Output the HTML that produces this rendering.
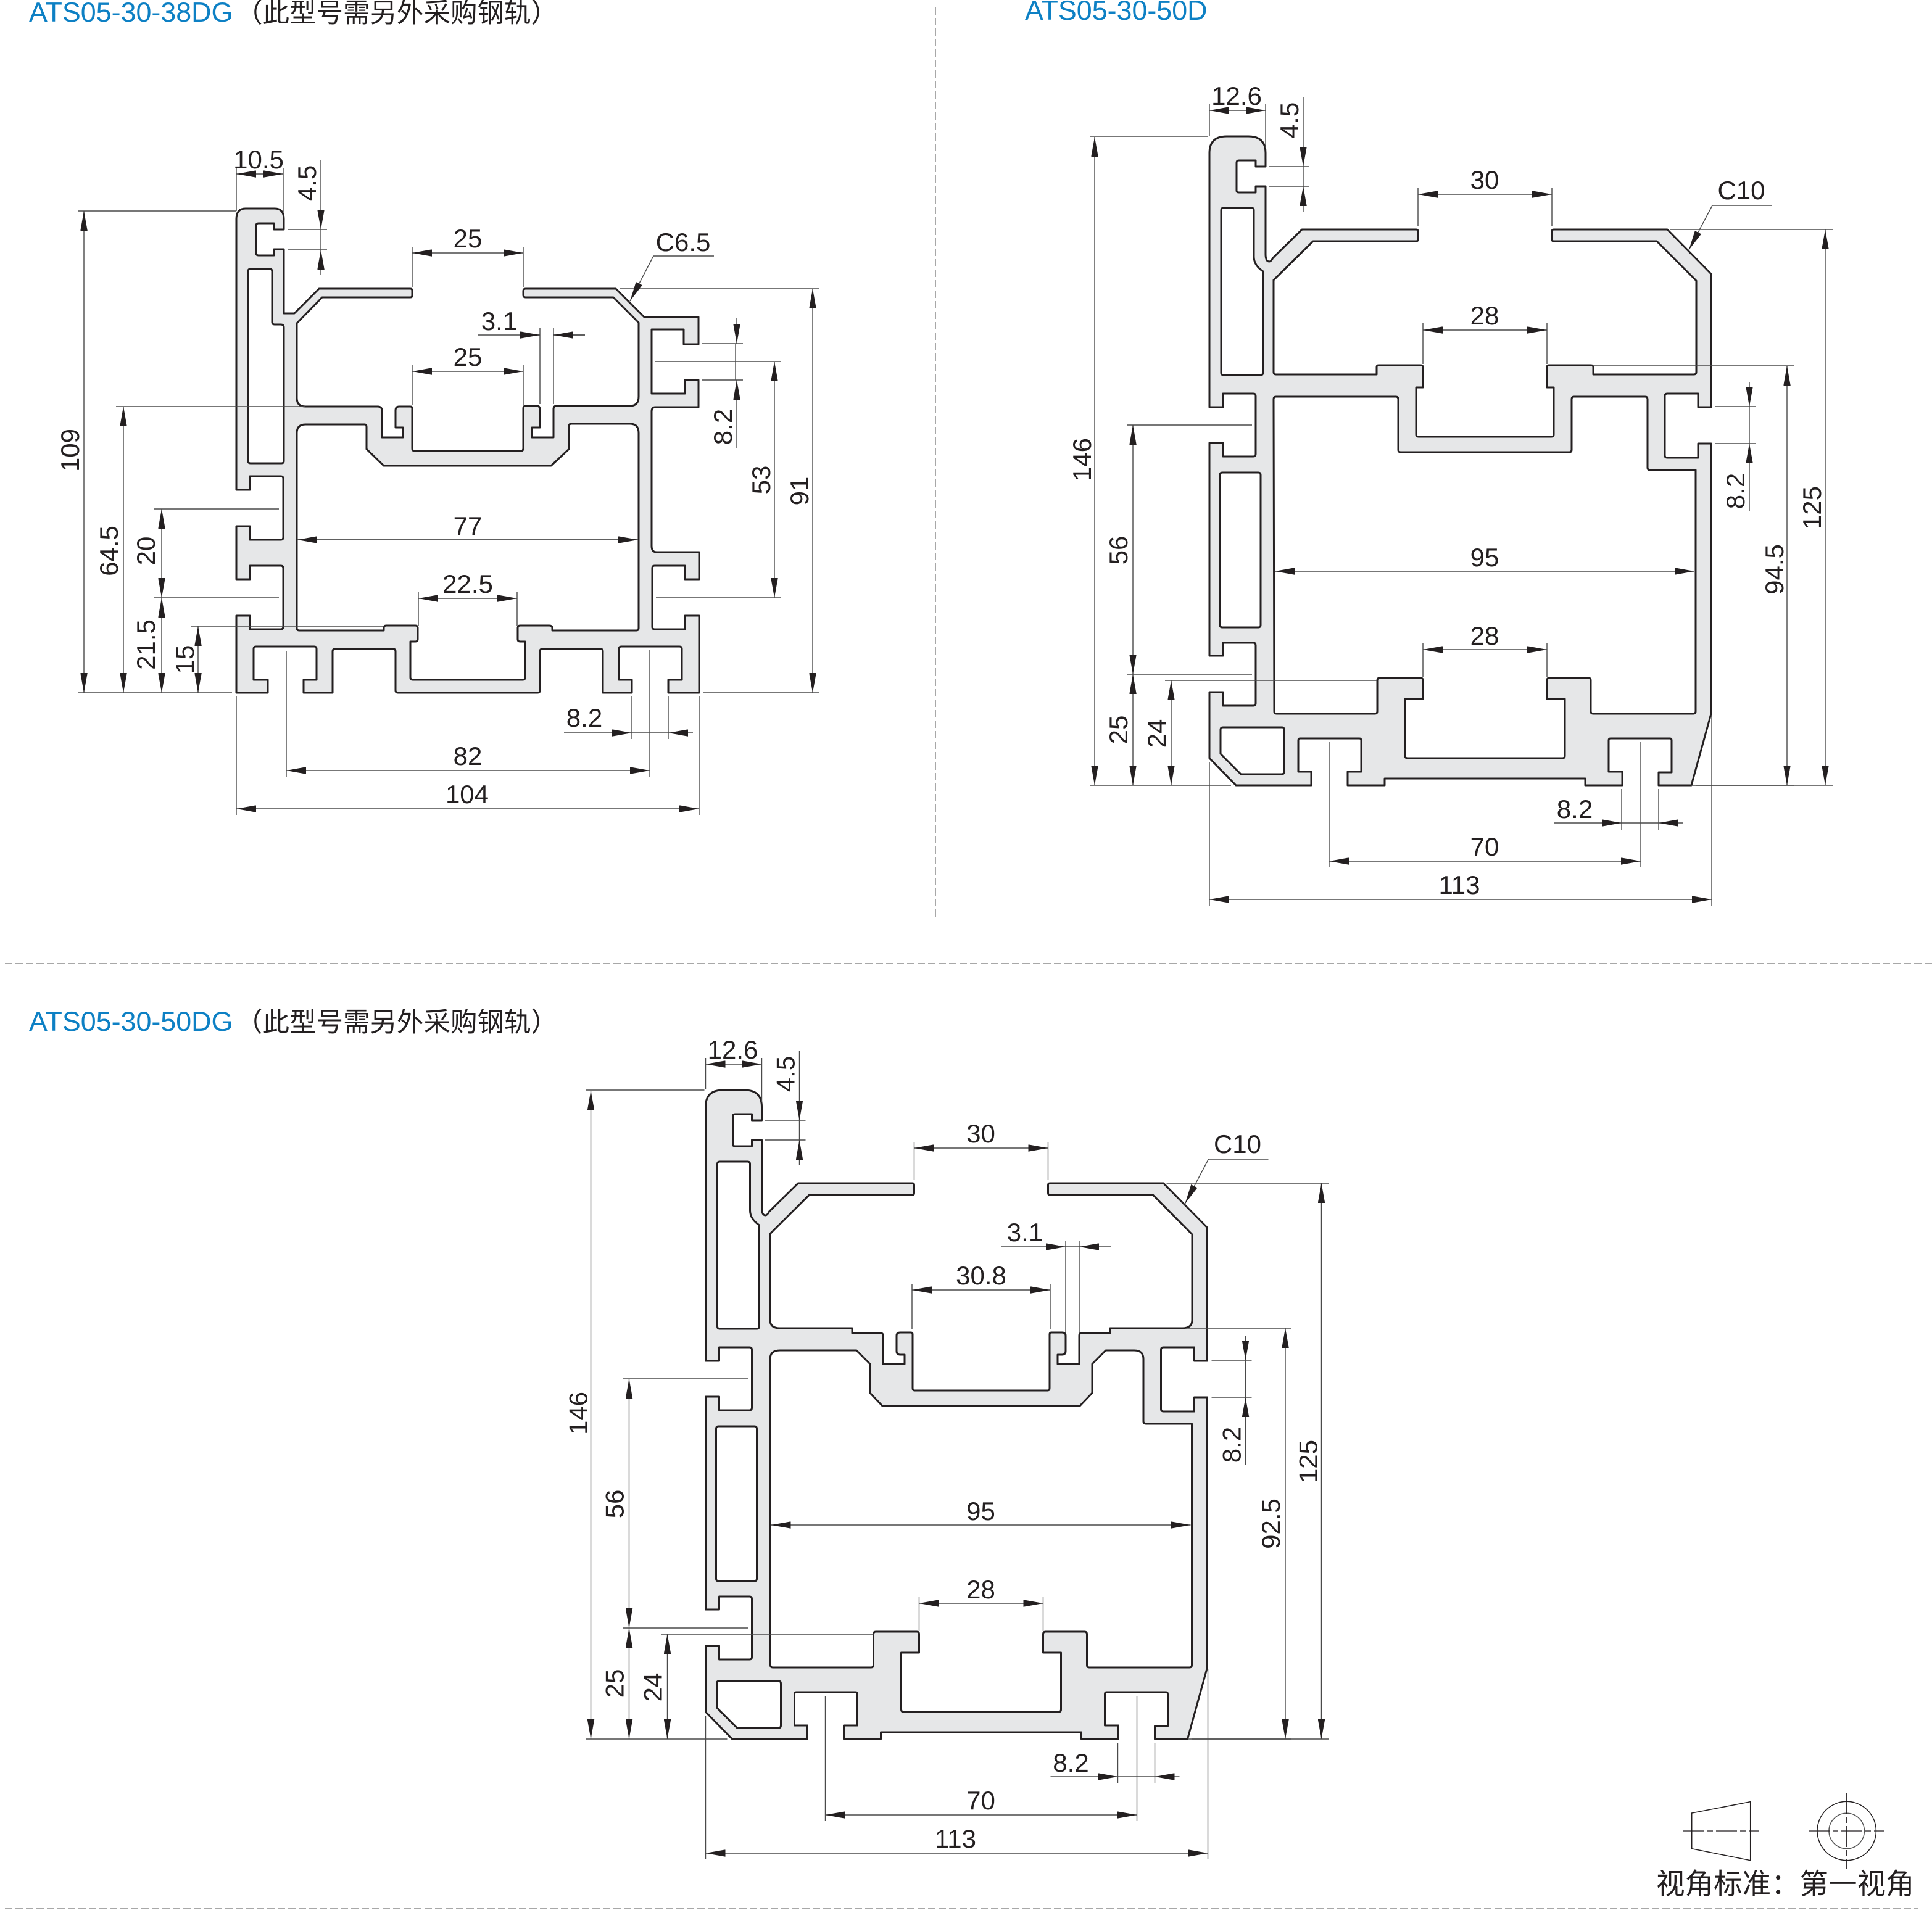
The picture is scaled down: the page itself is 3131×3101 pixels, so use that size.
<!DOCTYPE html>
<html><head><meta charset="utf-8"><style>
html,body{margin:0;padding:0;background:#fff}
svg{display:block}
.p{fill:#e6e7e8;fill-rule:evenodd;stroke:#231f20;stroke-width:3;stroke-linejoin:round}
.d,.a,.e{fill:none;stroke:#4a4a4a;stroke-width:1.4}
.a{marker-start:url(#m);marker-end:url(#m)}
.e{marker-end:url(#m)}
text{font-family:"Liberation Sans","Noto Sans CJK SC",sans-serif;fill:#231f20}
.t{font-size:42px;text-anchor:middle}
.b{font-size:44.8px;fill:#0d80c4}
.c{font-size:43.5px}
.dash{fill:none;stroke:#a8a8a8;stroke-width:2;stroke-dasharray:12 5}
.l{fill:none;stroke:#231f20;stroke-width:1.5}
</style></head><body>
<svg xmlns="http://www.w3.org/2000/svg" width="3131" height="3101" viewBox="0 0 3131 3101">
<defs><marker id="m" markerUnits="userSpaceOnUse" markerWidth="32" markerHeight="11.5" refX="32" refY="5.75" orient="auto-start-reverse"><path d="M0 0L32 5.75L0 11.5Z" fill="#231f20"/></marker></defs>
<rect width="3131" height="3101" fill="#fff"/>

<path class="dash" d="M1516 12V1492"/>
<path class="dash" d="M8 1562H3131"/>
<path class="dash" d="M8 3094H3108"/>

<text class="b" x="47" y="35">ATS05-30-38DG</text><text class="c" x="382" y="36">（此型号需另外采购钢轨）</text>
<text class="b" x="1661" y="32">ATS05-30-50D</text>
<text class="b" x="47" y="1671">ATS05-30-50DG</text><text class="c" x="382" y="1672">（此型号需另外采购钢轨）</text>

<!-- Profile 1 -->
<path class="p" d="M383 355Q383 338 398 338L445 338Q460 338 460 355L460 372L444 372L444 362L419 362Q415 362 415 366L415 410Q415 414 419 414L444 414L444 404L460 404L460 508L477 508L517 468L665 468Q668 468 668 471L668 479Q668 482 665 482L522 482L481 524L481 645Q481 659 495 659L612 659Q619 659 619 666L619 709L653 709L653 693L641 693L641 665Q641 659 647 659L665 659Q668 659 668 662L668 727Q668 731 672 731L844 731Q848 731 848 727L848 662Q848 658 852 658L870 658Q875 658 875 664L875 693L862 693L862 709L897 709L897 663Q897 658 902 658L1021 658Q1035 658 1035 643L1035 523L994 482L852 482Q848 482 848 478L848 472Q848 468 852 468L998 468L1044 514L1132 514L1132 558L1108 558L1108 534L1056 534L1056 638L1110 638L1110 616L1132 616L1132 660L1062 660Q1056 660 1056 667L1056 885Q1056 895 1064 895L1133 895L1133 939L1110 939L1110 917L1061 917Q1057 917 1057 921L1057 1016Q1057 1020 1061 1020L1110 1020L1110 998L1133 998L1133 1123L1083 1123L1083 1102L1105 1102L1105 1052Q1105 1048 1101 1048L1007 1048Q1003 1048 1003 1052L1003 1102L1024 1102L1024 1123L977 1123L977 1056Q977 1052 973 1052L879 1052Q875 1052 875 1056L875 1119Q875 1123 871 1123L645 1123Q641 1123 641 1119L641 1056Q641 1052 637 1052L543 1052Q539 1052 539 1056L539 1123L492 1123L492 1102L513 1102L513 1052Q513 1048 509 1048L415 1048Q411 1048 411 1052L411 1102L434 1102L434 1123L383 1123L383 998L405 998L405 1020L455 1020Q459 1020 459 1016L459 921Q459 917 455 917L405 917L405 939L383 939L383 853L405 853L405 875L455 875Q459 875 459 871L459 776Q459 772 455 772L405 772L405 794L383 794Z
M406 436L437 436Q441 436 441 440L441 522Q441 526 445 526L455 526Q460 526 460 531L460 747Q460 751 456 751L406 751Q402 751 402 747L402 440Q402 436 406 436Z
M481 702Q481 688 495 688L591 688Q594 688 594 692L594 728L622 755L893 755L922 728L922 691Q922 687 926 687L1021 687Q1035 687 1035 702L1035 1018Q1035 1022 1031 1022L895 1022L895 1018Q895 1014 890 1014L843 1014Q839 1014 839 1018L839 1036Q839 1040 843 1040L851 1040L851 1098Q851 1102 847 1102L669 1102Q665 1102 665 1098L665 1040L673 1040Q677 1040 677 1036L677 1018Q677 1014 673 1014L626 1014Q622 1014 622 1018L622 1022L485 1022Q481 1022 481 1018Z"/>

<g>
<path class="d" d="M383 272V342M459 272V345M466 372H530M466 405H530M520 372V405M126 342H382M126 1123H376M188 659H494M250 825H452M250 969H452M310 1015H622M668 400V465M848 400V465M668 591V657M848 591V657M843 543H875M875 532V655M897 532V655M897 543H948M1004 468H1328M1140 1123H1328M1062 586H1266M1063 969H1266M1192 557V616M1137 557H1204M1137 616H1204M1059 415H1157M482 875H1034M678 960V1014M838 960V1014M1024 1129V1198M1083 1129V1198M1024 1188H1083M464 1056V1260M1053 1054V1260M383 1129V1321M1133 1129V1321"/>
<path class="a" d="M383 282H459"/>
<path class="e" d="M520 260V372"/><path class="e" d="M520 445V405"/>
<path class="a" d="M136 342V1123"/>
<path class="a" d="M200 659V1123"/>
<path class="a" d="M262 825V969"/><path class="a" d="M262 969V1123"/>
<path class="a" d="M321 1015V1123"/>
<path class="a" d="M668 410H848"/>
<path class="a" d="M668 602H848"/>
<path class="e" d="M775 543H875"/><path class="e" d="M948 543H897"/>
<path class="e" d="M1059 415L1021 488"/>
<path class="a" d="M1317 468V1123"/>
<path class="a" d="M1255 586V969"/>
<path class="e" d="M1194 516V557"/><path class="e" d="M1194 726V616"/>
<path class="a" d="M482 875H1034"/>
<path class="a" d="M678 970H838"/>
<path class="e" d="M914 1188H1024"/><path class="e" d="M1123 1188H1083"/>
<path class="a" d="M464 1249H1053"/>
<path class="a" d="M383 1311H1133"/>
<text class="t" x="419" y="273">10.5</text>
<text class="t" transform="rotate(-90 512 297)" x="512" y="297">4.5</text>
<text class="t" transform="rotate(-90 128 730)" x="128" y="730">109</text>
<text class="t" transform="rotate(-90 191 893)" x="191" y="893">64.5</text>
<text class="t" transform="rotate(-90 251 893)" x="251" y="893">20</text>
<text class="t" transform="rotate(-90 251 1045)" x="251" y="1045">21.5</text>
<text class="t" transform="rotate(-90 314 1069)" x="314" y="1069">15</text>
<text class="t" x="758" y="401">25</text>
<text class="t" x="758" y="593">25</text>
<text class="t" x="809" y="535">3.1</text>
<text class="t" x="1107" y="407">C6.5</text>
<text class="t" transform="rotate(-90 1310 796)" x="1310" y="796">91</text>
<text class="t" transform="rotate(-90 1248 778)" x="1248" y="778">53</text>
<text class="t" transform="rotate(-90 1186 692)" x="1186" y="692">8.2</text>
<text class="t" x="758" y="867">77</text>
<text class="t" x="758" y="961">22.5</text>
<text class="t" x="947" y="1178">8.2</text>
<text class="t" x="758" y="1240">82</text>
<text class="t" x="757" y="1302">104</text>
</g>

<!-- Profile 2 -->
<path class="p" d="M1960 248Q1960 221 1988 221L2023 221Q2051 221 2051 248L2051 270L2035 270L2035 260L2008 260Q2004 260 2004 264L2004 309Q2004 312 2008 312L2035 312L2035 302L2051 302L2051 412Q2051 424 2057 424Q2060 424 2063 418L2110 372L2295 372Q2298 372 2298 375L2298 388Q2298 391 2295 391L2128 391L2064 454L2064 603Q2064 607 2068 607L2231 607L2231 595Q2231 592 2234 592L2302 592Q2306 592 2306 595L2306 628L2295 628L2295 704Q2295 708 2299 708L2514 708Q2518 708 2518 704L2518 628L2507 628L2507 595Q2507 592 2510 592L2578 592Q2582 592 2582 595L2582 607L2745 607Q2749 607 2749 603L2749 455L2685 391L2518 391Q2515 391 2515 388L2515 375Q2515 372 2518 372L2702 372L2773 444L2773 660L2752 660L2752 638L2702 638Q2698 638 2698 642L2698 738Q2698 742 2702 742L2752 742L2752 719L2773 719L2773 1157L2741 1273L2688 1273L2688 1252L2709 1252L2709 1200Q2709 1197 2706 1197L2610 1197Q2607 1197 2607 1200L2607 1251L2629 1251L2629 1273L2569 1273L2569 1262L2244 1262L2244 1273L2184 1273L2184 1251L2206 1251L2206 1200Q2206 1197 2203 1197L2107 1197Q2104 1197 2104 1200L2104 1251L2125 1251L2125 1273L2003 1273L1960 1229L1960 1122L1982 1122L1982 1144L2031 1144Q2035 1144 2035 1140L2035 1046Q2035 1042 2031 1042L1982 1042L1982 1063L1960 1063L1960 718L1982 718L1982 740L2031 740Q2035 740 2035 736L2035 642Q2035 638 2031 638L1982 638L1982 660L1960 660Z
M1983 337L2028 337Q2032 337 2032 341L2032 416Q2032 430 2047 440L2047 603Q2047 608 2043 608L1983 608Q1979 608 1979 604L1979 341Q1979 337 1983 337Z
M1981 766L2039 766Q2043 766 2043 770L2043 1013Q2043 1017 2039 1017L1981 1017Q1977 1017 1977 1013L1977 770Q1977 766 1981 766Z
M1982 1179L2078 1179Q2081 1179 2081 1183L2081 1251Q2081 1255 2077 1255L2011 1255L1978 1222L1978 1183Q1978 1179 1982 1179Z
M2064 647Q2064 643 2068 643L2262 643Q2266 643 2266 647L2266 729Q2266 733 2270 733L2543 733Q2547 733 2547 729L2547 647Q2547 643 2551 643L2666 643Q2670 643 2670 647L2670 758Q2670 762 2674 762L2748 762L2748 1153Q2748 1157 2744 1157L2582 1157Q2578 1157 2578 1153L2578 1103Q2578 1099 2574 1099L2511 1099Q2507 1099 2507 1103L2507 1133L2536 1133L2536 1225Q2536 1229 2532 1229L2281 1229Q2277 1229 2277 1225L2277 1133L2306 1133L2306 1103Q2306 1099 2302 1099L2236 1099Q2232 1099 2232 1103L2232 1153Q2232 1157 2228 1157L2069 1157Q2065 1157 2065 1153Z"/>

<!-- Profile 2 dimensions -->
<g>
<path class="d" d="M1960 169V220M2051 169V240M2112 270V302M2056 270H2122M2056 302H2122M2298 305V367M2515 305V367M2775 333H2872M2306 1043V1098M2507 1043V1098M2628 1334H2688M2628 1279V1345M2688 1279V1345M2154 1203V1406M2659 1203V1406M1960 1235V1468M2774 1160V1468M1766 221H1958M1766 1273H1995M1826 689H2029M1826 1093H2029M1888 1103H2232M2707 372H2970M2748 1273H2970M2835 659V719M2780 659H2845M2780 719H2845"/>
<path class="a" d="M1960 179H2051"/>
<path class="e" d="M2112 158V270"/><path class="e" d="M2112 343V302"/>
<path class="a" d="M2298 315H2515"/>
<path class="e" d="M2775 333L2737 405"/>
<path class="a" d="M2306 1053H2507"/>
<path class="e" d="M2519 1334H2628"/><path class="e" d="M2728 1334H2688"/>
<path class="a" d="M2154 1396H2659"/>
<path class="a" d="M1960 1458H2774"/>
<path class="a" d="M1774 222V1273"/>
<path class="a" d="M1836 689V1093"/><path class="a" d="M1836 1093V1273"/>
<path class="a" d="M1898 1103V1273"/>
<path class="a" d="M2958 372V1273"/>
<path class="e" d="M2835 619V659"/><path class="e" d="M2835 828V719"/>
<path class="a" d="M2066 926H2746"/>
<text class="t" x="2004" y="170">12.6</text>
<text class="t" transform="rotate(-90 2104 195)" x="2104" y="195">4.5</text>
<text class="t" x="2406" y="306">30</text>
<text class="t" x="2822" y="323">C10</text>
<text class="t" x="2406" y="1045">28</text>
<text class="t" x="2552" y="1326">8.2</text>
<text class="t" x="2406" y="1387">70</text>
<text class="t" x="2365" y="1449">113</text>
<text class="t" transform="rotate(-90 1768 745)" x="1768" y="745">146</text>
<text class="t" transform="rotate(-90 1827 892)" x="1827" y="892">56</text>
<text class="t" transform="rotate(-90 1827 1183)" x="1827" y="1183">25</text>
<text class="t" transform="rotate(-90 1889 1189)" x="1889" y="1189">24</text>
<text class="t" transform="rotate(-90 2951 823)" x="2951" y="823">125</text>
<text class="t" transform="rotate(-90 2827 796)" x="2827" y="796">8.2</text>
<text class="t" x="2406" y="918">95</text>
<!-- specific to profile 2 -->
<path class="d" d="M2306 524V590M2507 524V590M2582 593H2907M2741 1273H2907"/>
<path class="a" d="M2306 535H2507"/>
<path class="a" d="M2896 593V1273"/>
<text class="t" x="2406" y="526">28</text>
<text class="t" transform="rotate(-90 2890 923)" x="2890" y="923">94.5</text>
</g>

<!-- Profile 3 -->
<g transform="translate(-816.5 1546)">
<path class="p" d="M1960 248Q1960 221 1988 221L2023 221Q2051 221 2051 248L2051 270L2035 270L2035 260L2008 260Q2004 260 2004 264L2004 309Q2004 312 2008 312L2035 312L2035 302L2051 302L2051 412Q2051 424 2057 424Q2060 424 2063 418L2110 372L2295 372Q2298 372 2298 375L2298 388Q2298 391 2295 391L2128 391L2064.5 454L2064.5 594Q2064.5 607 2080.5 607L2197.5 607L2197.5 615L2243.5 615Q2247.5 615 2247.5 619L2247.5 665L2282.5 665L2282.5 650L2275.5 650Q2269.5 650 2269.5 644L2269.5 619Q2269.5 614 2275.5 614L2292.5 614Q2295.5 614 2295.5 617L2295.5 704Q2295.5 708 2298.5 708L2514.5 708Q2517.5 708 2517.5 704L2517.5 617Q2517.5 614 2520.5 614L2537.5 614Q2543.5 614 2543.5 619L2543.5 644Q2543.5 650 2537.5 650L2530.5 650L2530.5 665L2565.5 665L2565.5 619Q2565.5 615 2569.5 615L2615.5 615L2615.5 607L2732.5 607Q2748.5 607 2748.5 594L2748.5 455L2685 391L2518 391Q2515 391 2515 388L2515 375Q2515 372 2518 372L2702 372L2773 444L2773 660L2752 660L2752 638L2702 638Q2698 638 2698 642L2698 738Q2698 742 2702 742L2752 742L2752 719L2773 719L2773 1157L2741 1273L2688 1273L2688 1252L2709 1252L2709 1200Q2709 1197 2706 1197L2610 1197Q2607 1197 2607 1200L2607 1251L2629 1251L2629 1273L2569 1273L2569 1262L2244 1262L2244 1273L2184 1273L2184 1251L2206 1251L2206 1200Q2206 1197 2203 1197L2107 1197Q2104 1197 2104 1200L2104 1251L2125 1251L2125 1273L2003 1273L1960 1229L1960 1122L1982 1122L1982 1144L2031 1144Q2035 1144 2035 1140L2035 1046Q2035 1042 2031 1042L1982 1042L1982 1063L1960 1063L1960 718L1982 718L1982 740L2031 740Q2035 740 2035 736L2035 642Q2035 638 2031 638L1982 638L1982 660L1960 660Z
M1983 337L2028 337Q2032 337 2032 341L2032 416Q2032 430 2047 440L2047 603Q2047 608 2043 608L1983 608Q1979 608 1979 604L1979 341Q1979 337 1983 337Z
M1981 766L2039 766Q2043 766 2043 770L2043 1013Q2043 1017 2039 1017L1981 1017Q1977 1017 1977 1013L1977 770Q1977 766 1981 766Z
M1982 1179L2078 1179Q2082 1179 2082 1183L2082 1251Q2082 1255 2078 1255L2011 1255L1978 1222L1978 1183Q1978 1179 1982 1179Z
M2064.5 657Q2064.5 643 2080.5 643L2204.5 643L2226.5 665L2226.5 712L2246.5 733L2566.5 733L2586.5 712L2586.5 665L2608.5 643L2654.5 643Q2669.5 643 2669.5 657L2669.5 758Q2669.5 762 2674 762L2748 762L2748 1153Q2748 1157 2744 1157L2582 1157Q2578 1157 2578 1153L2578 1103Q2578 1099 2574 1099L2511 1099Q2507 1099 2507 1103L2507 1133L2536 1133L2536 1225Q2536 1229 2532 1229L2281 1229Q2277 1229 2277 1225L2277 1133L2306 1133L2306 1103Q2306 1099 2302 1099L2236 1099Q2232 1099 2232 1103L2232 1153Q2232 1157 2228 1157L2069 1157Q2065 1157 2065 1153Z"/>
<path class="d" d="M1960 169V220M2051 169V240M2112 270V302M2056 270H2122M2056 302H2122M2298 305V367M2515 305V367M2775 333H2872M2306 1043V1098M2507 1043V1098M2628 1334H2688M2628 1279V1345M2688 1279V1345M2154 1203V1406M2659 1203V1406M1960 1235V1468M2774 1160V1468M1766 221H1958M1766 1273H1995M1826 689H2029M1826 1093H2029M1888 1103H2232M2707 372H2970M2748 1273H2970M2835 659V719M2780 659H2845M2780 719H2845"/>
<path class="a" d="M1960 179H2051"/>
<path class="e" d="M2112 158V270"/><path class="e" d="M2112 343V302"/>
<path class="a" d="M2298 315H2515"/>
<path class="e" d="M2775 333L2737 405"/>
<path class="a" d="M2306 1053H2507"/>
<path class="e" d="M2519 1334H2628"/><path class="e" d="M2728 1334H2688"/>
<path class="a" d="M2154 1396H2659"/>
<path class="a" d="M1960 1458H2774"/>
<path class="a" d="M1774 222V1273"/>
<path class="a" d="M1836 689V1093"/><path class="a" d="M1836 1093V1273"/>
<path class="a" d="M1898 1103V1273"/>
<path class="a" d="M2958 372V1273"/>
<path class="e" d="M2835 619V659"/><path class="e" d="M2835 828V719"/>
<path class="a" d="M2066 926H2746"/>
<text class="t" x="2004" y="170">12.6</text>
<text class="t" transform="rotate(-90 2104 195)" x="2104" y="195">4.5</text>
<text class="t" x="2406" y="306">30</text>
<text class="t" x="2822" y="323">C10</text>
<text class="t" x="2406" y="1045">28</text>
<text class="t" x="2552" y="1326">8.2</text>
<text class="t" x="2406" y="1387">70</text>
<text class="t" x="2365" y="1449">113</text>
<text class="t" transform="rotate(-90 1768 745)" x="1768" y="745">146</text>
<text class="t" transform="rotate(-90 1827 892)" x="1827" y="892">56</text>
<text class="t" transform="rotate(-90 1827 1183)" x="1827" y="1183">25</text>
<text class="t" transform="rotate(-90 1889 1189)" x="1889" y="1189">24</text>
<text class="t" transform="rotate(-90 2951 823)" x="2951" y="823">125</text>
<text class="t" transform="rotate(-90 2827 796)" x="2827" y="796">8.2</text>
<text class="t" x="2406" y="918">95</text>
</g>
<!-- Profile 3 specific dimensions -->
<path class="d" d="M1727 2021H1749M1727 2011V2161M1749 2011V2161M1478 2081V2155M1702 2081V2155M1920 2153H2092M1925 2819H2092"/>
<path class="e" d="M1623 2021H1727"/><path class="e" d="M1800 2021H1749"/>
<path class="a" d="M1478 2091H1702"/>
<path class="a" d="M2083 2153V2819"/>
<text class="t" x="1661" y="2012">3.1</text>
<text class="t" x="1590" y="2082">30.8</text>
<text class="t" transform="rotate(-90 2074 2470)" x="2074" y="2470">92.5</text>

<!-- Legend -->
<path class="l" d="M2741.7 2939L2836.7 2920.7V3015.7L2741.7 2996.7Z"/>
<path class="l" style="stroke-width:1.2;stroke-dasharray:34 5 9 5" d="M2728 2968H2851"/>
<circle class="l" cx="2992.7" cy="2968" r="47.7"/>
<circle class="l" cx="2992.7" cy="2968" r="28.7" style="stroke:#555"/>
<path class="l" style="stroke-width:1.2;stroke-dasharray:34 5 9 5" d="M2931 2968H3054M2992.7 2907V3030"/>
<text x="2684" y="3070" style="font-size:46.5px">视角标准：第一视角</text>
</svg>
</body></html>
